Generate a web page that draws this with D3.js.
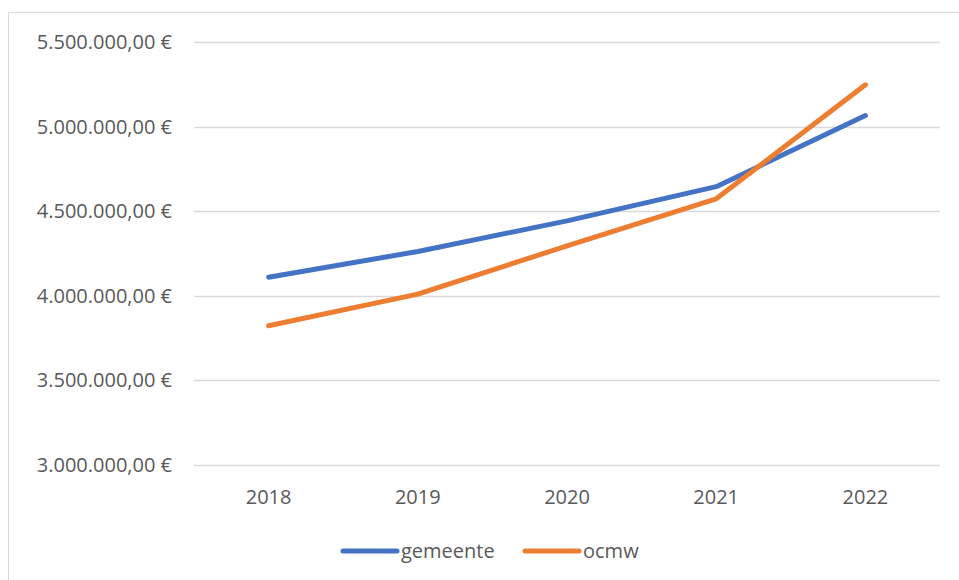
<!DOCTYPE html>
<html><head><meta charset="utf-8">
<script src="https://cdn.jsdelivr.net/npm/d3@7"></script>
<style>body{margin:0;background:#fff}svg{display:block}</style>
</head><body><svg id="c" width="959" height="580"></svg>
<script>
const years = ["2018","2019","2020","2021","2022"];
const gemeente = [4110000, 4262000, 4443000, 4645000, 5065000];
const ocmw = [3823000, 4010000, 4295000, 4573000, 5247000];
const yTicks = [3000000, 3500000, 4000000, 4500000, 5000000, 5500000];
const seriesNames = ["gemeente", "ocmw"];
const colors = ["#4472C4", "#ED7D31"];

const svg = d3.select("#c");
const font = "'Open Sans', 'Noto Sans', sans-serif";
const fs = 20;
svg.append("rect").attr("x",8.5).attr("y",12.5).attr("width",970).attr("height",600)
  .attr("fill","#fff").attr("stroke","#d9d9d9");

const x = d3.scaleBand().domain(years).range([194, 940]);
const y = d3.scaleLinear().domain([3000000, 5500000]).range([465, 42]);

const fmt = v => {
  const s = d3.format(",.2f")(v).replace(/,/g,"X").replace(".",",").replace(/X/g,".");
  return s + " €";
};

const g = svg.append("g");
g.selectAll("line.grid").data(yTicks).join("line")
  .attr("x1",194).attr("x2",940).attr("y1",d=>Math.round(y(d))+0.5).attr("y2",d=>Math.round(y(d))+0.5)
  .attr("stroke","#d9d9d9").attr("stroke-width",1.3);
g.selectAll("text.yl").data(yTicks).join("text")
  .attr("x",172).attr("y",d=>y(d)).attr("dy","0.35em").attr("text-anchor","end")
  .attr("font-family",font).attr("font-size",fs).attr("fill","#595959").text(fmt);
g.selectAll("text.xl").data(years).join("text")
  .attr("x",d=>x(d)+x.bandwidth()/2).attr("y",497).attr("dy","0.35em").attr("text-anchor","middle")
  .attr("font-family",font).attr("font-size",fs).attr("fill","#595959").text(d=>d);

const line = d3.line().x((d,i)=>x(years[i])+x.bandwidth()/2).y(d=>y(d));
[gemeente, ocmw].forEach((s,i)=>{
  svg.append("path").attr("d",line(s)).attr("fill","none").attr("stroke",colors[i])
    .attr("stroke-width",5).attr("stroke-linecap","round").attr("stroke-linejoin","round");
});

const legX = [343, 525];
seriesNames.forEach((n,i)=>{
  svg.append("line").attr("x1",legX[i]).attr("x2",legX[i]+54).attr("y1",551).attr("y2",551)
    .attr("stroke",colors[i]).attr("stroke-width",5).attr("stroke-linecap","round");
  svg.append("text").attr("x",legX[i]+58).attr("y",551).attr("dy","0.35em")
    .attr("font-family",font).attr("font-size",fs).attr("fill","#595959").text(n);
});
</script></body></html>
